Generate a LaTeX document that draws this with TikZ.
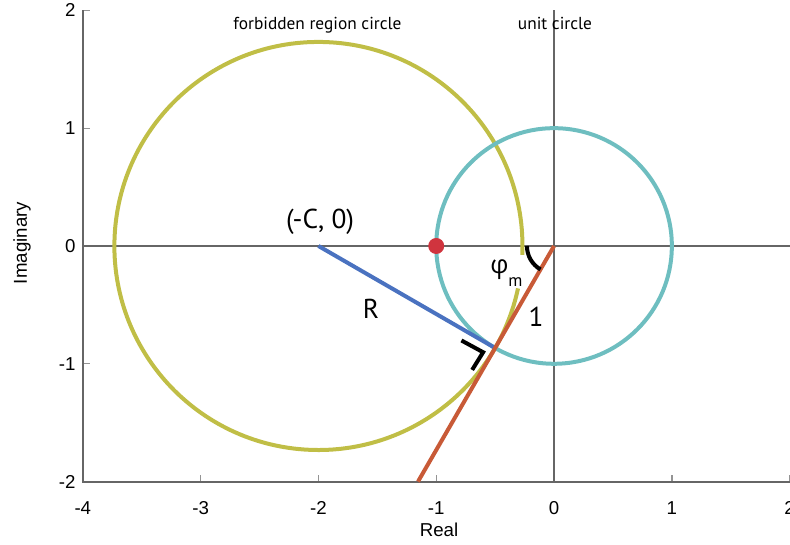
\documentclass[tikz,border=0pt]{standalone}
\usepackage{fontspec}
\setmainfont{Liberation Sans}
\newfontfamily\annfont{PT Sans}
\newfontfamily\greekfont{Open Sans}
\definecolor{fyellow}{RGB}{192,190,70}
\definecolor{uteal}{RGB}{110,190,192}
\definecolor{rblue}{RGB}{74,114,192}
\definecolor{lred}{RGB}{200,90,55}
\definecolor{dotred}{RGB}{208,52,62}
\definecolor{axgray}{RGB}{102,102,102}
\tikzset{
  axisline/.style={draw=axgray, line width=1.5pt},
  tickline/.style={draw=axgray!70, line width=1pt},
  ticklab/.style={font=\fontsize{14}{16}\selectfont, inner sep=0pt, text=black},
  toplab/.style={font=\annfont\fontsize{13}{15}\selectfont, inner sep=0pt, anchor=base},
  annlab/.style={font=\annfont\fontsize{20.5}{23}\selectfont, inner sep=0pt},
  curve/.style={line width=3pt},
  anglemark/.style={draw=black, line width=3pt}
}
\begin{document}
\begin{tikzpicture}[x=88.35pt, y=88.35pt]
\useasboundingbox (-4.703,-2.538) rectangle (2.003,2.088);
% named points
\coordinate (O) at (0,0);
\coordinate (C) at (-2,0);
\coordinate (T) at (-120:1);
\coordinate (E) at (-1.1547,-2);
\coordinate (M) at (-1,0);
\coordinate (P1) at (-0.786,-0.802);
\coordinate (PC) at (-0.602,-0.902);
\coordinate (P2) at (-0.695,-1.052);
% ticks
\foreach \y in {-2,...,2} \draw[tickline] (-4,\y) -- ++(0.06,0);
\foreach \x in {-4,...,2} \draw[tickline] (\x,-2) -- ++(0,0.06);
% axes
\draw[axisline] (-4,2) -- (-4,-2) -- (2,-2);
\draw[axisline] (-4,0) -- (2,0);
\draw[axisline] (0,-2) -- (0,2);
% tick labels
\foreach \y in {-2,...,2} \node[ticklab, anchor=east] (yl\y) at (-4.06,\y) {\y};
\foreach \x in {-4,...,2} \node[ticklab] (xl\x) at (\x,-2.228) {\x};
\node[ticklab] (xlabel) at (-0.976,-2.411) {Real};
\node[ticklab, rotate=90] (ylabel) at (-4.516,0.025) {Imaginary};
% curves
\draw[curve, fyellow] (C) ++(-2.5:1.732) arc[start angle=-2.5, end angle=348, radius=1.732];
\draw[curve, uteal] (O) circle[radius=1];
\draw[curve, rblue] (C) -- (T);
\draw[curve, lred] (O) -- (E);
\fill[dotred] (M) circle[radius=0.068];
% angle marks
\draw[anglemark] (O) ++(180:0.23) arc[start angle=180, end angle=240, radius=0.23];
\draw[anglemark] (P1) -- (PC) -- (P2);
% labels
\node[toplab] (fbl) at (-2.008,1.834) {forbidden region circle};
\node[toplab] (ucl) at (0.008,1.834) {unit circle};
\node[annlab] (cl) at (-1.986,0.204) {(-C, 0)};
\node[annlab] (rl) at (-1.553,-0.535) {R};
\node[annlab] (onel) at (-0.153,-0.603) {1};
\node[annlab, font=\greekfont\fontsize{19}{22}\selectfont] (phil) at (-0.463,-0.204) {φ};
\node[annlab, font=\annfont\fontsize{13}{15}\selectfont] (subl) at (-0.327,-0.306) {m};
\end{tikzpicture}
\end{document}
